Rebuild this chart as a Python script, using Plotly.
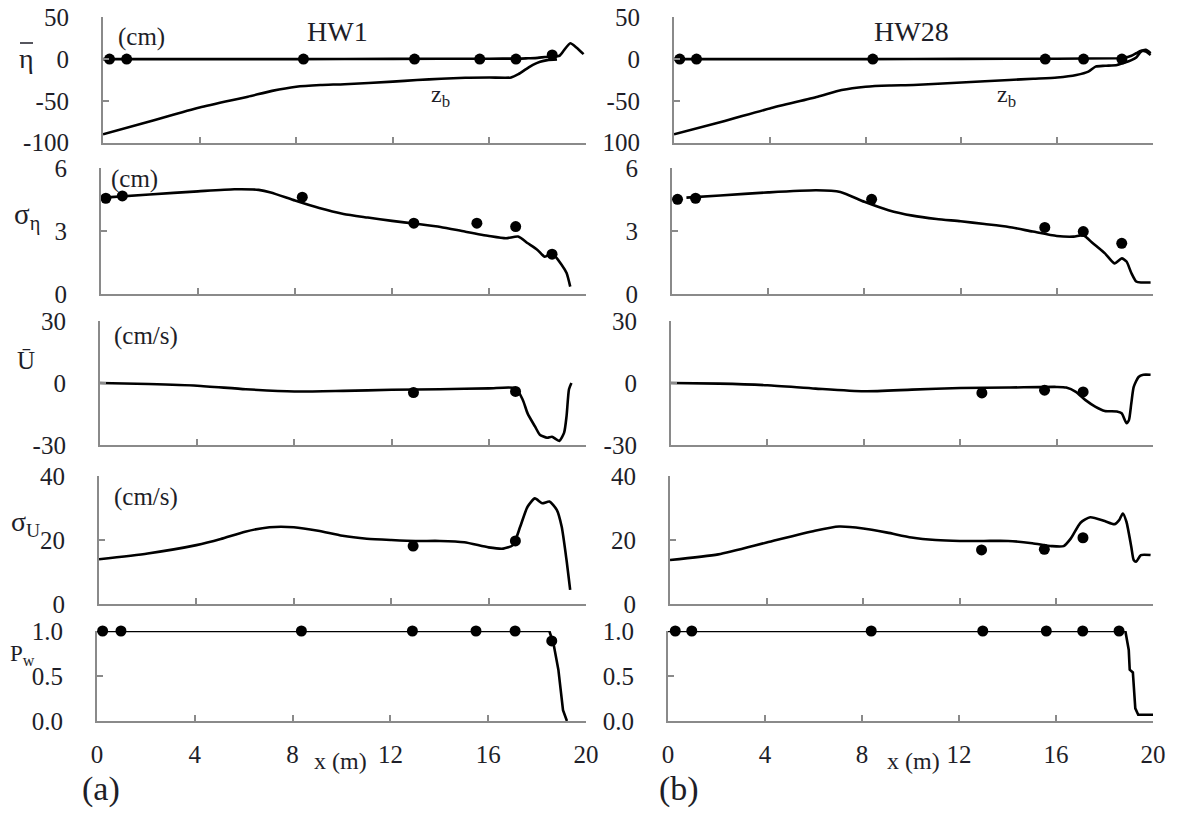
import plotly.graph_objects as go

# ---------------- data ----------------
x_ticks = [0, 4, 8, 12, 16, 20]

# Row 1: mean water level (eta bar) and bottom z_b
hw1_eta_x = [0, 4, 8, 12, 16, 17.2, 17.6, 18.0, 18.3, 18.6, 18.9, 19.1, 19.35, 19.6, 19.9]
hw1_eta_y = [0, 0, 0, 0.3, 0.5, 0.6, 1, 1.5, 2.5, 3, 4, 11, 19, 14, 6]
hw1_zb_x = [0, 2, 4, 6, 7, 8, 9, 10, 12, 13, 14, 15, 16, 16.9, 17.2, 17.5, 17.8, 18.1, 18.4, 18.8]
hw1_zb_y = [-90, -74, -58, -45, -38, -33, -31, -30, -27, -25, -23.5, -22.3, -22, -22, -18, -12.4, -7, -3.2, -1.2, -0.4]
hw1_eta_obs_x = [0.27, 0.98, 8.3, 12.9, 15.6, 17.1, 18.6]
hw1_eta_obs_y = [0, 0, 0, 0, 0, 0, 5]

hw28_eta_x = [0, 4, 8, 12, 16, 18.5, 18.8, 19.1, 19.3, 19.5, 19.7, 19.9]
hw28_eta_y = [0, 0, 0, 0.3, 0.5, 1, 1.5, 4, 7, 10, 9, 5]
hw28_zb_x = [0, 2, 4, 6, 7, 8, 9, 10, 12, 14, 15, 16, 16.8, 17.3, 17.6, 18.0, 18.5, 18.8, 19.1, 19.3, 19.5, 19.7, 19.9]
hw28_zb_y = [-90, -75, -59, -45, -37, -33, -31.5, -31, -28, -25, -23.5, -22, -19, -15, -9, -8, -7, -4.4, -1.2, 2, 9, 11, 7]
hw28_eta_obs_x = [0.24, 0.94, 8.3, 15.5, 17.1, 18.7]
hw28_eta_obs_y = [0, 0, 0, 0, 0, 0]

# Row 2: sigma eta (cm)
hw1_sig_x = [0.1, 2, 4, 5.5, 6.5, 7, 8, 9, 10, 11, 12, 13, 14, 15, 16, 16.7, 17.2, 17.6, 18.0, 18.3, 18.6, 19.0, 19.2, 19.35]
hw1_sig_y = [4.6, 4.75, 4.9, 5.0, 4.97, 4.85, 4.46, 4.1, 3.82, 3.65, 3.49, 3.35, 3.2, 2.98, 2.77, 2.66, 2.74, 2.42, 2.1, 1.78, 1.94, 1.39, 1.0, 0.35]
hw1_sig_obs_x = [0.2, 0.88, 8.3, 12.9, 15.5, 17.1, 18.6]
hw1_sig_obs_y = [4.57, 4.68, 4.62, 3.38, 3.38, 3.22, 1.9]

hw28_sig_x = [0.6, 2, 4, 6, 7, 8, 9, 10, 11, 12, 13, 14, 15, 16, 16.7, 17.1, 17.5, 18.0, 18.4, 18.7, 18.9, 19.1, 19.3, 19.5, 19.9]
hw28_sig_y = [4.6, 4.7, 4.85, 4.95, 4.87, 4.4, 4.0, 3.74, 3.58, 3.47, 3.34, 3.2, 2.98, 2.77, 2.74, 2.8, 2.42, 1.94, 1.46, 1.7, 1.55, 1.0, 0.6, 0.55, 0.55]
hw28_sig_obs_x = [0.23, 0.98, 8.3, 15.5, 17.1, 18.7]
hw28_sig_obs_y = [4.52, 4.57, 4.52, 3.18, 2.98, 2.42]

# Row 3: mean velocity U bar (cm/s)
hw1_u_x = [0, 2, 4, 6, 8, 10, 12, 14, 16, 17.1, 17.4, 17.6, 17.9, 18.1, 18.4, 18.6, 18.9, 19.1, 19.2, 19.3, 19.4]
hw1_u_y = [0, -0.5, -1.3, -3, -4.1, -3.8, -3.3, -3, -2.6, -2.5, -8.2, -14.8, -21, -25, -26.5, -26, -28, -24, -16, -3, 0]
hw1_u_obs_x = [12.9, 17.1]
hw1_u_obs_y = [-4.6, -4.1]

hw28_u_x = [0, 2, 4, 6, 8, 10, 12, 14, 16, 16.4, 16.8, 17.2, 17.6, 18.0, 18.5, 18.7, 18.9, 19.0, 19.1, 19.2, 19.4, 19.6, 19.9]
hw28_u_y = [0, -0.3, -1.1, -2.7, -4, -3.2, -2.4, -2.2, -1.9, -2.2, -4.3, -8.3, -11.4, -13.5, -13.8, -14.6, -19.4, -18, -9.8, -1.9, 2.9, 4, 4]
hw28_u_obs_x = [12.9, 15.5, 17.1]
hw28_u_obs_y = [-4.8, -3.5, -4.3]

# Row 4: sigma U (cm/s)
hw1_su_x = [0, 2, 4, 5, 6, 7, 8, 9, 10, 11, 12, 13, 14, 15, 16, 16.6, 17.0, 17.3, 17.6, 17.9, 18.2, 18.5, 18.8, 19.0, 19.2, 19.35]
hw1_su_y = [14, 15.8, 18.4, 20.3, 22.6, 24, 24, 22.9, 21.3, 20.4, 20, 19.7, 19.7, 19.3, 17.7, 17.3, 18.4, 24.2, 30.4, 33, 31.5, 32, 29.4, 24.2, 13.75, 4.4]
hw1_su_obs_x = [12.9, 17.1]
hw1_su_obs_y = [18.1, 19.7]

hw28_su_x = [0, 2, 4, 6, 7, 8, 9, 10, 11, 12, 13, 14, 15, 15.8, 16.3, 16.6, 17.0, 17.4, 18.0, 18.4, 18.6, 18.75, 18.9, 19.1, 19.2, 19.3, 19.5, 19.9]
hw28_su_y = [13.75, 15.5, 19.2, 22.9, 24.2, 23.6, 22.3, 20.8, 20, 19.7, 19.7, 19.7, 19, 18.1, 18.1, 20.5, 25.4, 27.1, 25.9, 24.9, 26.2, 28.3, 25.7, 17.9, 13.75, 13.2, 15.3, 15.3]
hw28_su_obs_x = [12.9, 15.5, 17.1]
hw28_su_obs_y = [16.9, 17.1, 20.7]

# Row 5: wet probability Pw
hw1_pw_x = [0, 18.5, 18.67, 18.87, 18.98, 19.06, 19.22]
hw1_pw_y = [1, 1, 0.86, 0.57, 0.31, 0.12, 0]
hw1_pw_obs_x = [0.23, 0.98, 8.36, 12.9, 15.5, 17.1, 18.6]
hw1_pw_obs_y = [1, 1, 1, 1, 1, 1, 0.89]

hw28_pw_x = [0, 18.86, 19.0, 19.04, 19.17, 19.21, 19.27, 19.39, 20]
hw28_pw_y = [1, 1, 0.79, 0.57, 0.54, 0.32, 0.14, 0.07, 0.07]
hw28_pw_obs_x = [0.3, 0.98, 8.38, 12.98, 15.6, 17.1, 18.6]
hw28_pw_obs_y = [1, 1, 1, 1, 1, 1, 1]

# clipped open markers at the wall (x = 0)
edge_vals = {0: 0, 1: 4.6, 4: 1}

y_ranges = [[-100, 50], [0, 6], [-30, 30], [0, 40], [0, 1]]
y_tickvals = [[-100, -50, 0, 50], [0, 3, 6], [-30, 0, 30], [0, 20, 40], [0, 0.5, 1]]
y_ticktext_left = [["-100", "-50", "0", "50"], ["0", "3", "6"], ["-30", "0", "30"], ["0", "20", "40"], ["0.0", "0.5", "1.0"]]
y_ticktext_right = [["100", "-50", "0", "50"], ["0", "3", "6"], ["-30", "0", "30"], ["0", "20", "40"], ["0.0", "0.5", "1.0"]]

# ---------------- layout geometry (screen pixels) ----------------
W, H = 1185, 815
OFF = 0  # page body margin removed by post_script
col_x0 = [[103, 101, 100, 99, 97], [674, 672, 671, 670, 668]]
col_x1 = [586, 1153]
row_px = [(17.3, 142.7), (168.3, 294), (321, 445), (476, 604), (631, 721)]

FONT = "Liberation Serif"
AX = "#8a8a8a"
TXT = "#1e1e28"


def px_x(p):
    return (p - OFF) / W


def px_y(p):
    return 1 - (p - OFF) / H


fig = go.Figure()


def axis_id(r, c):
    return r * 2 + c + 1


def ref(prefix, n):
    return prefix if n == 1 else f"{prefix}{n}"


def add_line(r, c, x, y, shape="spline"):
    n = axis_id(r, c)
    fig.add_trace(go.Scatter(x=x, y=y, mode="lines", xaxis=ref("x", n), yaxis=ref("y", n),
                             line=dict(color="black", width=2.6, shape=shape, smoothing=0.6),
                             cliponaxis=False, showlegend=False, hoverinfo="skip"))


def add_dots(r, c, x, y):
    n = axis_id(r, c)
    fig.add_trace(go.Scatter(x=x, y=y, mode="markers", xaxis=ref("x", n), yaxis=ref("y", n),
                             marker=dict(color="black", size=11),
                             cliponaxis=False, showlegend=False, hoverinfo="skip"))


def add_edge(r, c, yv):
    n = axis_id(r, c)
    fig.add_trace(go.Scatter(x=[-0.1], y=[yv], mode="markers", xaxis=ref("x", n), yaxis=ref("y", n),
                             marker=dict(color="white", size=10, symbol="circle",
                                         line=dict(color="black", width=2)),
                             cliponaxis=False, showlegend=False, hoverinfo="skip"))


for r, yv in edge_vals.items():
    for c in range(2):
        add_edge(r, c, yv)

# column 0 (HW1)
add_line(0, 0, hw1_zb_x, hw1_zb_y)
add_line(0, 0, hw1_eta_x, hw1_eta_y)
add_dots(0, 0, hw1_eta_obs_x, hw1_eta_obs_y)
add_line(1, 0, hw1_sig_x, hw1_sig_y)
add_dots(1, 0, hw1_sig_obs_x, hw1_sig_obs_y)
add_line(2, 0, hw1_u_x, hw1_u_y)
add_dots(2, 0, hw1_u_obs_x, hw1_u_obs_y)
add_line(3, 0, hw1_su_x, hw1_su_y)
add_dots(3, 0, hw1_su_obs_x, hw1_su_obs_y)
add_line(4, 0, hw1_pw_x, hw1_pw_y, shape="linear")
add_dots(4, 0, hw1_pw_obs_x, hw1_pw_obs_y)

# column 1 (HW28)
add_line(0, 1, hw28_zb_x, hw28_zb_y)
add_line(0, 1, hw28_eta_x, hw28_eta_y)
add_dots(0, 1, hw28_eta_obs_x, hw28_eta_obs_y)
add_line(1, 1, hw28_sig_x, hw28_sig_y)
add_dots(1, 1, hw28_sig_obs_x, hw28_sig_obs_y)
add_line(2, 1, hw28_u_x, hw28_u_y)
add_dots(2, 1, hw28_u_obs_x, hw28_u_obs_y)
add_line(3, 1, hw28_su_x, hw28_su_y)
add_dots(3, 1, hw28_su_obs_x, hw28_su_obs_y)
add_line(4, 1, hw28_pw_x, hw28_pw_y, shape="linear")
add_dots(4, 1, hw28_pw_obs_x, hw28_pw_obs_y)

layout = {}
for r in range(5):
    for c in range(2):
        n = axis_id(r, c)
        yt, yb = row_px[r]
        layout[ref("xaxis", n)] = dict(
            domain=[px_x(col_x0[c][r]), px_x(col_x1[c])], anchor=ref("y", n), range=[0, 20],
            automargin=False, ticklabeloverflow="allow",
            tickvals=x_ticks, ticks="inside", ticklen=6, tickwidth=1.5, tickcolor=AX,
            showline=True, linecolor=AX, linewidth=2.2, showgrid=False, zeroline=False,
            showticklabels=(r == 4), ticklabelstandoff=10,
            tickfont=dict(family=FONT, size=25, color=TXT))
        layout[ref("yaxis", n)] = dict(
            domain=[px_y(yb), px_y(yt)], anchor=ref("x", n), range=y_ranges[r], automargin=False,
            ticklabeloverflow="allow",
            tickvals=y_tickvals[r],
            ticktext=(y_ticktext_left if c == 0 else y_ticktext_right)[r],
            ticks="inside", ticklen=6, tickwidth=1.5, tickcolor=AX,
            showline=True, linecolor=AX, linewidth=2.2, showgrid=False, zeroline=False,
            ticklabelstandoff=27, tickfont=dict(family=FONT, size=25, color=TXT))

fig.update_layout(width=W, height=H, margin=dict(l=0, r=0, t=0, b=0, autoexpand=False),
                  paper_bgcolor="white", plot_bgcolor="white", **layout)


def ann(text, px, py, size, xanchor="center"):
    fig.add_annotation(text=text, x=px_x(px), y=px_y(py), xref="paper", yref="paper",
                       showarrow=False, xanchor=xanchor, yanchor="middle",
                       font=dict(family=FONT, size=size, color=TXT))


# variable labels
ann("η", 26, 58, 28)
fig.add_shape(type="line", xref="paper", yref="paper",
              x0=px_x(20), x1=px_x(33), y0=px_y(43), y1=px_y(43),
              line=dict(color=TXT, width=1.5))
ann("σ<sub>η</sub>", 27, 216, 29)
ann("Ū", 26, 360, 25)
ann("σ<sub>U</sub>", 25, 523, 28)
ann("P<sub>w</sub>", 22, 655, 23)
# units
ann("(cm)", 141, 37, 25)
ann("(cm)", 134, 179, 25)
ann("(cm/s)", 146, 336, 25)
ann("(cm/s)", 146, 497, 25)
# titles
ann("HW1", 337, 31, 28)
ann("HW28", 911, 31, 28)
# z_b labels
ann("z<sub>b</sub>", 440, 96, 24)
ann("z<sub>b</sub>", 1006, 96, 24)
# x labels
ann("x (m)", 340, 761, 24)
ann("x (m)", 913, 761, 24)
# panel labels
ann("(a)", 101, 789, 34)
ann("(b)", 679, 789, 34)

fig.write_html("out.html", config={"displayModeBar": False},
               post_script="document.body.style.margin='0px';document.body.style.overflow='hidden';")
